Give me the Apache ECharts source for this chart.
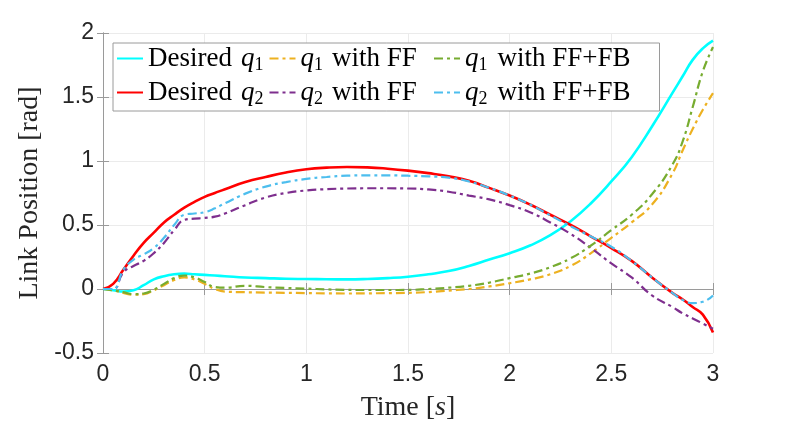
<!DOCTYPE html>
<html>
<head>
<meta charset="utf-8">
<script src="https://cdn.jsdelivr.net/npm/echarts@6/dist/echarts.min.js"></script>
<style>html,body{margin:0;padding:0;background:#fff;}#c{width:789px;height:424px;}</style>
</head>
<body>
<div id="c"></div>
<script>
var time = [0,0.05,0.1,0.15,0.2,0.25,0.3,0.35,0.4,0.45,0.5,0.55,0.6,0.7,0.8,0.9,1.0,1.1,1.2,1.3,1.4,1.5,1.6,1.7,1.8,1.9,2.0,2.1,2.2,2.3,2.4,2.5,2.6,2.7,2.8,2.85,2.9,2.95,3.0];
var desiredQ1 = [0,-0.01,-0.02,-0.01,0.03,0.075,0.10,0.115,0.12,0.115,0.11,0.105,0.10,0.09,0.085,0.08,0.078,0.076,0.075,0.078,0.085,0.096,0.115,0.14,0.18,0.23,0.28,0.34,0.42,0.53,0.67,0.84,1.03,1.27,1.53,1.66,1.79,1.88,1.94];
var desiredQ2 = [0,0.04,0.15,0.26,0.36,0.44,0.52,0.58,0.635,0.68,0.72,0.75,0.78,0.835,0.875,0.91,0.935,0.948,0.953,0.95,0.94,0.925,0.905,0.88,0.845,0.79,0.73,0.66,0.58,0.50,0.41,0.32,0.22,0.09,-0.03,-0.08,-0.14,-0.20,-0.34];
var q1FF = [0,-0.01,-0.03,-0.045,-0.04,-0.01,0.03,0.07,0.09,0.075,0.04,0.0,-0.02,-0.025,-0.028,-0.03,-0.032,-0.034,-0.035,-0.034,-0.032,-0.03,-0.024,-0.012,0.0,0.02,0.045,0.075,0.115,0.18,0.28,0.40,0.52,0.66,0.90,1.08,1.25,1.40,1.53];
var q2FF = [0,0.0,0.13,0.18,0.22,0.28,0.36,0.46,0.54,0.55,0.555,0.565,0.59,0.655,0.715,0.75,0.77,0.78,0.785,0.787,0.787,0.785,0.778,0.76,0.73,0.70,0.655,0.60,0.52,0.43,0.32,0.20,0.09,-0.05,-0.14,-0.19,-0.23,-0.27,-0.31];
var q1FFFB = [0,-0.01,-0.025,-0.04,-0.035,-0.005,0.04,0.085,0.105,0.09,0.055,0.015,0.01,0.025,0.015,0.008,0.003,-0.003,-0.007,-0.008,-0.008,-0.007,0.0,0.01,0.025,0.05,0.085,0.12,0.17,0.24,0.34,0.46,0.58,0.74,0.97,1.15,1.42,1.70,1.89];
var q2FFFB = [0,0.0,0.15,0.23,0.27,0.32,0.40,0.50,0.58,0.59,0.60,0.63,0.67,0.745,0.80,0.835,0.86,0.875,0.885,0.888,0.888,0.885,0.88,0.87,0.84,0.79,0.73,0.66,0.575,0.49,0.41,0.33,0.22,0.09,-0.03,-0.085,-0.11,-0.10,-0.05];
var xTicks = [0,0.5,1,1.5,2,2.5,3];
var yTicks = [-0.5,0,0.5,1,1.5,2];

function pairs(v){ return time.map(function(t,i){ return [t, v[i]]; }); }

var serif = 'Liberation Serif';
var sans = 'Liberation Sans';
var dashDot = [9,4,3,4];

var legendText = {
  'Desired q1': '{d|Desired}{q|q}{s|1}',
  'Desired q2': '{d|Desired}{q|q}{s|2}',
  'q1 with FF': '{q|q}{s|1}{w1|with FF}',
  'q2 with FF': '{q|q}{s|2}{w1|with FF}',
  'q1 with FF+FB': '{q|q}{s|1}{w2|with FF+FB}',
  'q2 with FF+FB': '{q|q}{s|2}{w2|with FF+FB}'
};

var chart = echarts.init(document.getElementById('c'), null, {renderer:'canvas'});

function mk(name, data, color, solid, z){
  return {
    name: name, type: 'line', data: pairs(data), symbol: 'none', showSymbol: false,
    smooth: 0.5, z: z,
    lineStyle: { color: color, width: solid ? 2.6 : 2.2, type: solid ? 'solid' : dashDot },
    itemStyle: { color: color }
  };
}

var axisCol = '#9a9a9a';
var tickFont = 23;
var lf = 27;
var option = {
  backgroundColor: '#fff',
  animation: false,
  grid: { left: 103, right: 76, top: 33, bottom: 71, containLabel: false, outerBoundsMode: 'none' },
  legend: {
    left: 113, top: 43, width: 550,
    padding: [2, 4, 3, 3],
    itemGap: 5, itemWidth: 26, itemHeight: 12,
    backgroundColor: '#fff', borderColor: '#9a9a9a', borderWidth: 1,
    itemStyle: { opacity: 0 },
    data: ['Desired q1','q1 with FF','q1 with FF+FB','Desired q2','q2 with FF','q2 with FF+FB'],
    formatter: function(n){ return legendText[n]; },
    textStyle: {
      color: '#000', fontFamily: serif, fontSize: lf,
      rich: {
        d: { fontFamily: serif, fontSize: lf, lineHeight: 31, width: 93, color: '#000' },
        w1: { fontFamily: serif, fontSize: lf, lineHeight: 31, width: 96, padding: [0,0,0,9], color: '#000' },
        w2: { fontFamily: serif, fontSize: lf, lineHeight: 31, width: 158, padding: [0,0,0,10], color: '#000' },
        q: { fontFamily: serif, fontSize: lf, fontStyle: 'italic', lineHeight: 31, color: '#000' },
        s: { fontFamily: serif, fontSize: 18, lineHeight: 21, verticalAlign: 'bottom', color: '#000' }
      }
    }
  },
  xAxis: [{
    type: 'value', min: 0, max: 3, interval: 0.5, position: 'bottom',
    name: '{n|Time }{n|[}{i|s}{n|]}', nameLocation: 'middle', nameGap: 41,
    nameTextStyle: { fontFamily: serif, fontSize: 28, color: '#262626',
      rich: { i: { fontFamily: serif, fontSize: 28, fontStyle: 'italic', color: '#262626' },
              n: { fontFamily: serif, fontSize: 28, color: '#262626' } } },
    axisLine: { show: true, lineStyle: { color: axisCol, width: 1 } },
    axisTick: { show: true, inside: true, length: 6, lineStyle: { color: axisCol } },
    axisLabel: { fontFamily: sans, fontSize: tickFont, color: '#262626', margin: 10,
      formatter: function(v){ return String(v); } },
    splitLine: { show: true, lineStyle: { color: '#ebebeb', width: 1 } }
  },{
    type: 'value', min: 0, max: 3, interval: 0.5, position: 'top',
    axisLine: { show: true, lineStyle: { color: axisCol, width: 1 } },
    axisTick: { show: true, inside: true, length: 6, lineStyle: { color: axisCol } },
    axisLabel: { show: false }, splitLine: { show: false }
  }],
  yAxis: [{
    type: 'value', min: -0.5, max: 2, interval: 0.5, position: 'left',
    name: 'Link Position [rad]', nameLocation: 'middle', nameGap: 54,
    nameTextStyle: { fontFamily: serif, fontSize: 28, color: '#262626' },
    axisLine: { show: true, lineStyle: { color: axisCol, width: 1 } },
    axisTick: { show: true, inside: true, length: 6, lineStyle: { color: axisCol } },
    axisLabel: { fontFamily: sans, fontSize: tickFont, color: '#262626', margin: 9,
      formatter: function(v){ return String(v); } },
    splitLine: { show: true, lineStyle: { color: '#ebebeb', width: 1 } }
  },{
    type: 'value', min: -0.5, max: 2, interval: 0.5, position: 'right',
    axisLine: { show: true, lineStyle: { color: axisCol, width: 1 } },
    axisTick: { show: true, inside: true, length: 6, lineStyle: { color: axisCol } },
    axisLabel: { show: false }, splitLine: { show: false }
  }],
  series: [
    mk('Desired q1', desiredQ1, '#00FFFF', true, 2),
    mk('Desired q2', desiredQ2, '#FF0000', true, 2),
    mk('q1 with FF', q1FF, '#EDB120', false, 3),
    mk('q2 with FF', q2FF, '#7E2F8E', false, 3),
    mk('q1 with FF+FB', q1FFFB, '#77AC30', false, 4),
    mk('q2 with FF+FB', q2FFFB, '#4DBEEE', false, 4)
  ]
};
chart.setOption(option);
</script>
</body>
</html>
